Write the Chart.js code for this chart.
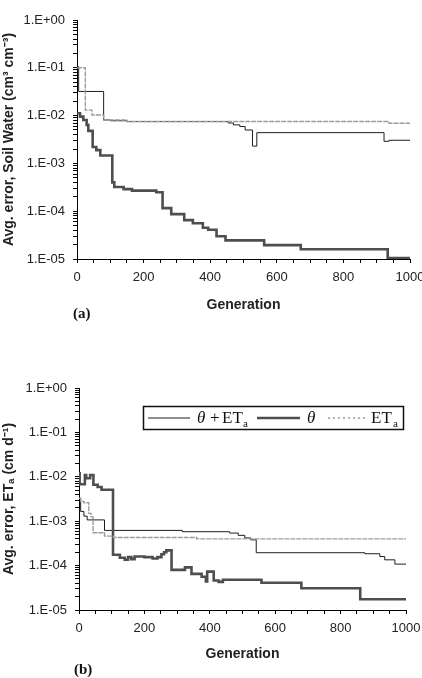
<!DOCTYPE html>
<html>
<head>
<meta charset="utf-8">
<script src="https://cdn.jsdelivr.net/npm/chart.js@4.4.1/dist/chart.umd.min.js"></script>
<style>
html, body { margin: 0; padding: 0; background: #fff; overflow: hidden; width: 422px; height: 678px; }
canvas { position: absolute; left: 0; }
.tag { position: absolute; font: bold 15px "Liberation Serif", "Times New Roman", serif; color: #111; line-height: 16px; }
</style>
</head>
<body>
<canvas id="chartA" width="425" height="330" style="top:0"></canvas>
<canvas id="chartB" width="422" height="348" style="top:330px"></canvas>
<div class="tag" style="left:73px;top:305px">(a)</div>
<div class="tag" style="left:74px;top:661px">(b)</div>
<script>
// (a) soil water error per generation (step changes)
const genA_both = [0, 5, 80, 100, 150, 454, 470, 489, 505, 527, 540, 922, 937, 1000];
const errA_both = [1.06e-1, 3.2e-2, 8.1e-3, 7.8e-3, 7.5e-3, 7.0e-3, 6.4e-3, 5.9e-3, 5.0e-3, 2.3e-3, 4.4e-3, 2.9e-3, 3.05e-3, 3.05e-3];
const genA_theta = [0, 9, 19, 29, 34, 47, 58, 70, 106, 112, 140, 165, 238, 257, 283, 322, 348, 378, 394, 419, 446, 562, 672, 933, 1000];
const errA_theta = [1.12e-2, 9.5e-3, 8.1e-3, 6.4e-3, 4.8e-3, 2.2e-3, 1.9e-3, 1.46e-3, 4.0e-4, 3.2e-4, 2.9e-4, 2.7e-4, 2.5e-4, 1.16e-4, 8.7e-5, 6.5e-5, 5.6e-5, 4.5e-5, 4.1e-5, 3.0e-5, 2.45e-5, 1.95e-5, 1.6e-5, 1.05e-5, 1.05e-5];
const genA_et = [0, 25, 45, 80, 150, 937, 1000];
const errA_et = [1.0e-1, 1.3e-2, 1.03e-2, 8.1e-3, 7.5e-3, 6.9e-3, 6.9e-3];

// (b) ETa error per generation
const genB_both = [0, 5, 15, 25, 78, 316, 461, 487, 507, 525, 542, 874, 920, 935, 966, 1000];
const errB_both = [3.3e-3, 1.66e-3, 1.3e-3, 1.07e-3, 6.2e-4, 5.8e-4, 5.4e-4, 4.8e-4, 4.2e-4, 3.8e-4, 1.95e-4, 1.85e-4, 1.6e-4, 1.35e-4, 1.08e-4, 1.08e-4];
const genB_theta = [0, 2, 18, 22, 34, 44, 57, 69, 104, 125, 140, 150, 160, 170, 200, 225, 240, 252, 260, 267, 283, 324, 344, 375, 388, 392, 412, 427, 440, 558, 680, 860, 1000];
const errB_theta = [1.2e-2, 6.8e-3, 1.1e-2, 9.3e-3, 1.1e-2, 6.6e-3, 5.9e-3, 5.1e-3, 1.75e-4, 1.5e-4, 1.35e-4, 1.55e-4, 1.4e-4, 1.6e-4, 1.55e-4, 1.45e-4, 1.55e-4, 1.8e-4, 2.0e-4, 2.2e-4, 8.0e-5, 9.1e-5, 6.5e-5, 5.6e-5, 4.4e-5, 7.3e-5, 4.6e-5, 4.3e-5, 4.8e-5, 4.1e-5, 3.1e-5, 1.75e-5, 1.75e-5];
const genB_et = [0, 5, 15, 30, 37, 43, 78, 105, 360, 1000];
const errB_et = [3.3e-3, 2.8e-3, 2.6e-3, 1.5e-3, 1.25e-3, 5.5e-4, 4.6e-4, 4.3e-4, 4.0e-4, 4.0e-4];

// axis ticks
const yDecades = [1e-5, 1e-4, 1e-3, 1e-2, 1e-1, 1];
const yTickLabels = ['1.E-05', '1.E-04', '1.E-03', '1.E-02', '1.E-01', '1.E+00'];
const xMajor = [0, 200, 400, 600, 800, 1000];
const xTickLabels = ['0', '200', '400', '600', '800', '1000'];

const sans = '"Liberation Sans", Arial, sans-serif';
const serif = '"Liberation Serif", "Times New Roman", serif';

function pontos(gens, errs) {
    return gens.map((g, i) => ({ x: g, y: errs[i] }));
}

function montaGrafico(id, both, theta, et, yTitle, lay) {
    return new Chart(document.getElementById(id), {
        type: 'line',
        data: {
            datasets: [
                { label: 'θ + ETa', data: both, borderColor: '#1e1e1e', borderWidth: 1, stepped: true, pointRadius: 0, order: 3 },
                { label: 'θ', data: theta, borderColor: '#4e4e4e', borderWidth: 2.6, stepped: true, pointRadius: 0, order: 2 },
                { label: 'ETa', data: et, borderColor: '#9c9c9c', borderWidth: 1.4, borderDash: [5, 1], stepped: true, pointRadius: 0, order: 1 }
            ]
        },
        options: {
            responsive: false,
            animation: false,
            devicePixelRatio: 1,
            layout: { padding: lay.padding },
            plugins: { legend: { display: false }, tooltip: { enabled: false } },
            scales: {
                x: {
                    type: 'linear', min: 0, max: 1000,
                    border: { display: true, color: '#000', width: 1 },
                    grid: { drawOnChartArea: false, drawTicks: true, tickLength: 4, color: '#000' },
                    afterBuildTicks: s => {
                        const t = [];
                        for (let v = 0; v <= 1000; v += 50) t.push({ value: v });
                        s.ticks = t;
                    },
                    ticks: {
                        autoSkip: false, maxRotation: 0, padding: 7, color: '#222',
                        font: { family: sans, size: 13 },
                        callback: v => {
                            const i = xMajor.indexOf(v);
                            return i >= 0 ? xTickLabels[i] : '';
                        }
                    },
                    title: {
                        display: true, text: 'Generation', color: '#222',
                        font: { family: sans, size: 14, weight: 'bold' },
                        padding: { top: 0, bottom: lay.xTitlePad }
                    },
                    afterFit: s => {
                        s.height = 60;
                        s.paddingLeft = 0;
                        s.paddingRight = 0;
                    }
                },
                y: {
                    type: 'logarithmic', min: 1e-5, max: 1,
                    border: { display: true, color: '#000', width: 1 },
                    grid: { drawOnChartArea: false, drawTicks: true, tickLength: 4, color: '#000' },
                    afterBuildTicks: s => {
                        const t = [];
                        for (let e = -5; e < 0; e++) {
                            for (let k = 1; k <= 9; k++) t.push({ value: k * Math.pow(10, e) });
                        }
                        t.push({ value: 1 });
                        s.ticks = t;
                    },
                    ticks: {
                        autoSkip: false, padding: 8, color: '#222',
                        font: { family: sans, size: 13 },
                        callback: v => {
                            const i = yDecades.findIndex(d => Math.abs(d - v) / d < 1e-6);
                            return i >= 0 ? yTickLabels[i] : '';
                        }
                    },
                    title: {
                        display: true, text: yTitle, color: '#222',
                        font: { family: sans, size: 14, weight: 'bold' },
                        padding: { top: 1, bottom: 0 }
                    },
                    afterFit: s => {
                        s.width = lay.yWidth;
                        s.paddingTop = 0;
                        s.paddingBottom = 0;
                    }
                }
            }
        },
        plugins: lay.plugins || []
    });
}

// legenda desenhada dentro do grafico (b)
const legendaB = {
    id: 'legendaB',
    afterDraw(chart) {
        const ctx = chart.ctx;
        const ds = chart.data.datasets;
        const x0 = 143.5, y0 = 76.5, w = 260, h = 23;
        const ly = y0 + h / 2;
        ctx.save();
        ctx.fillStyle = '#fff';
        ctx.fillRect(x0, y0, w, h);
        ctx.strokeStyle = '#111';
        ctx.lineWidth = 1.5;
        ctx.strokeRect(x0, y0, w, h);

        function amostra(d, xa, xb, dash) {
            ctx.beginPath();
            ctx.strokeStyle = d.borderColor;
            ctx.lineWidth = d.borderWidth;
            ctx.setLineDash(dash || []);
            ctx.moveTo(xa, ly);
            ctx.lineTo(xb, ly);
            ctx.stroke();
            ctx.setLineDash([]);
        }
        function escreve(txt, x, y, font) {
            ctx.font = font;
            ctx.fillText(txt, x, y);
        }

        ctx.fillStyle = '#111';
        ctx.textBaseline = 'alphabetic';
        ctx.textAlign = 'left';
        const base = 93;

        amostra(ds[0], 148, 190);
        escreve('θ', 197, base, 'italic 17px ' + serif);
        escreve('+', 210, base, '17px ' + serif);
        escreve('ET', 222, base, '17px ' + serif);
        escreve('a', 243, base + 3.5, '11px ' + serif);

        amostra(ds[1], 257, 300);
        escreve('θ', 307, base, 'italic 17px ' + serif);

        amostra(ds[2], 328, 367, [2, 3]);
        escreve('ET', 371, base, '17px ' + serif);
        escreve('a', 393, base + 3.5, '11px ' + serif);
        ctx.restore();
    }
};

montaGrafico('chartA',
    pontos(genA_both, errA_both), pontos(genA_theta, errA_theta), pontos(genA_et, errA_et),
    'Avg. error, Soil Water (cm³ cm⁻³)',
    { padding: { top: 20, right: 15, bottom: 11, left: 0 }, xTitlePad: 5.6, yWidth: 77 });

montaGrafico('chartB',
    pontos(genB_both, errB_both), pontos(genB_theta, errB_theta), pontos(genB_et, errB_et),
    'Avg. error, ETₐ (cm d⁻¹)',
    { padding: { top: 58, right: 16, bottom: 8, left: 0 }, xTitlePad: 7.6, yWidth: 79, plugins: [legendaB] });
</script>
</body>
</html>
